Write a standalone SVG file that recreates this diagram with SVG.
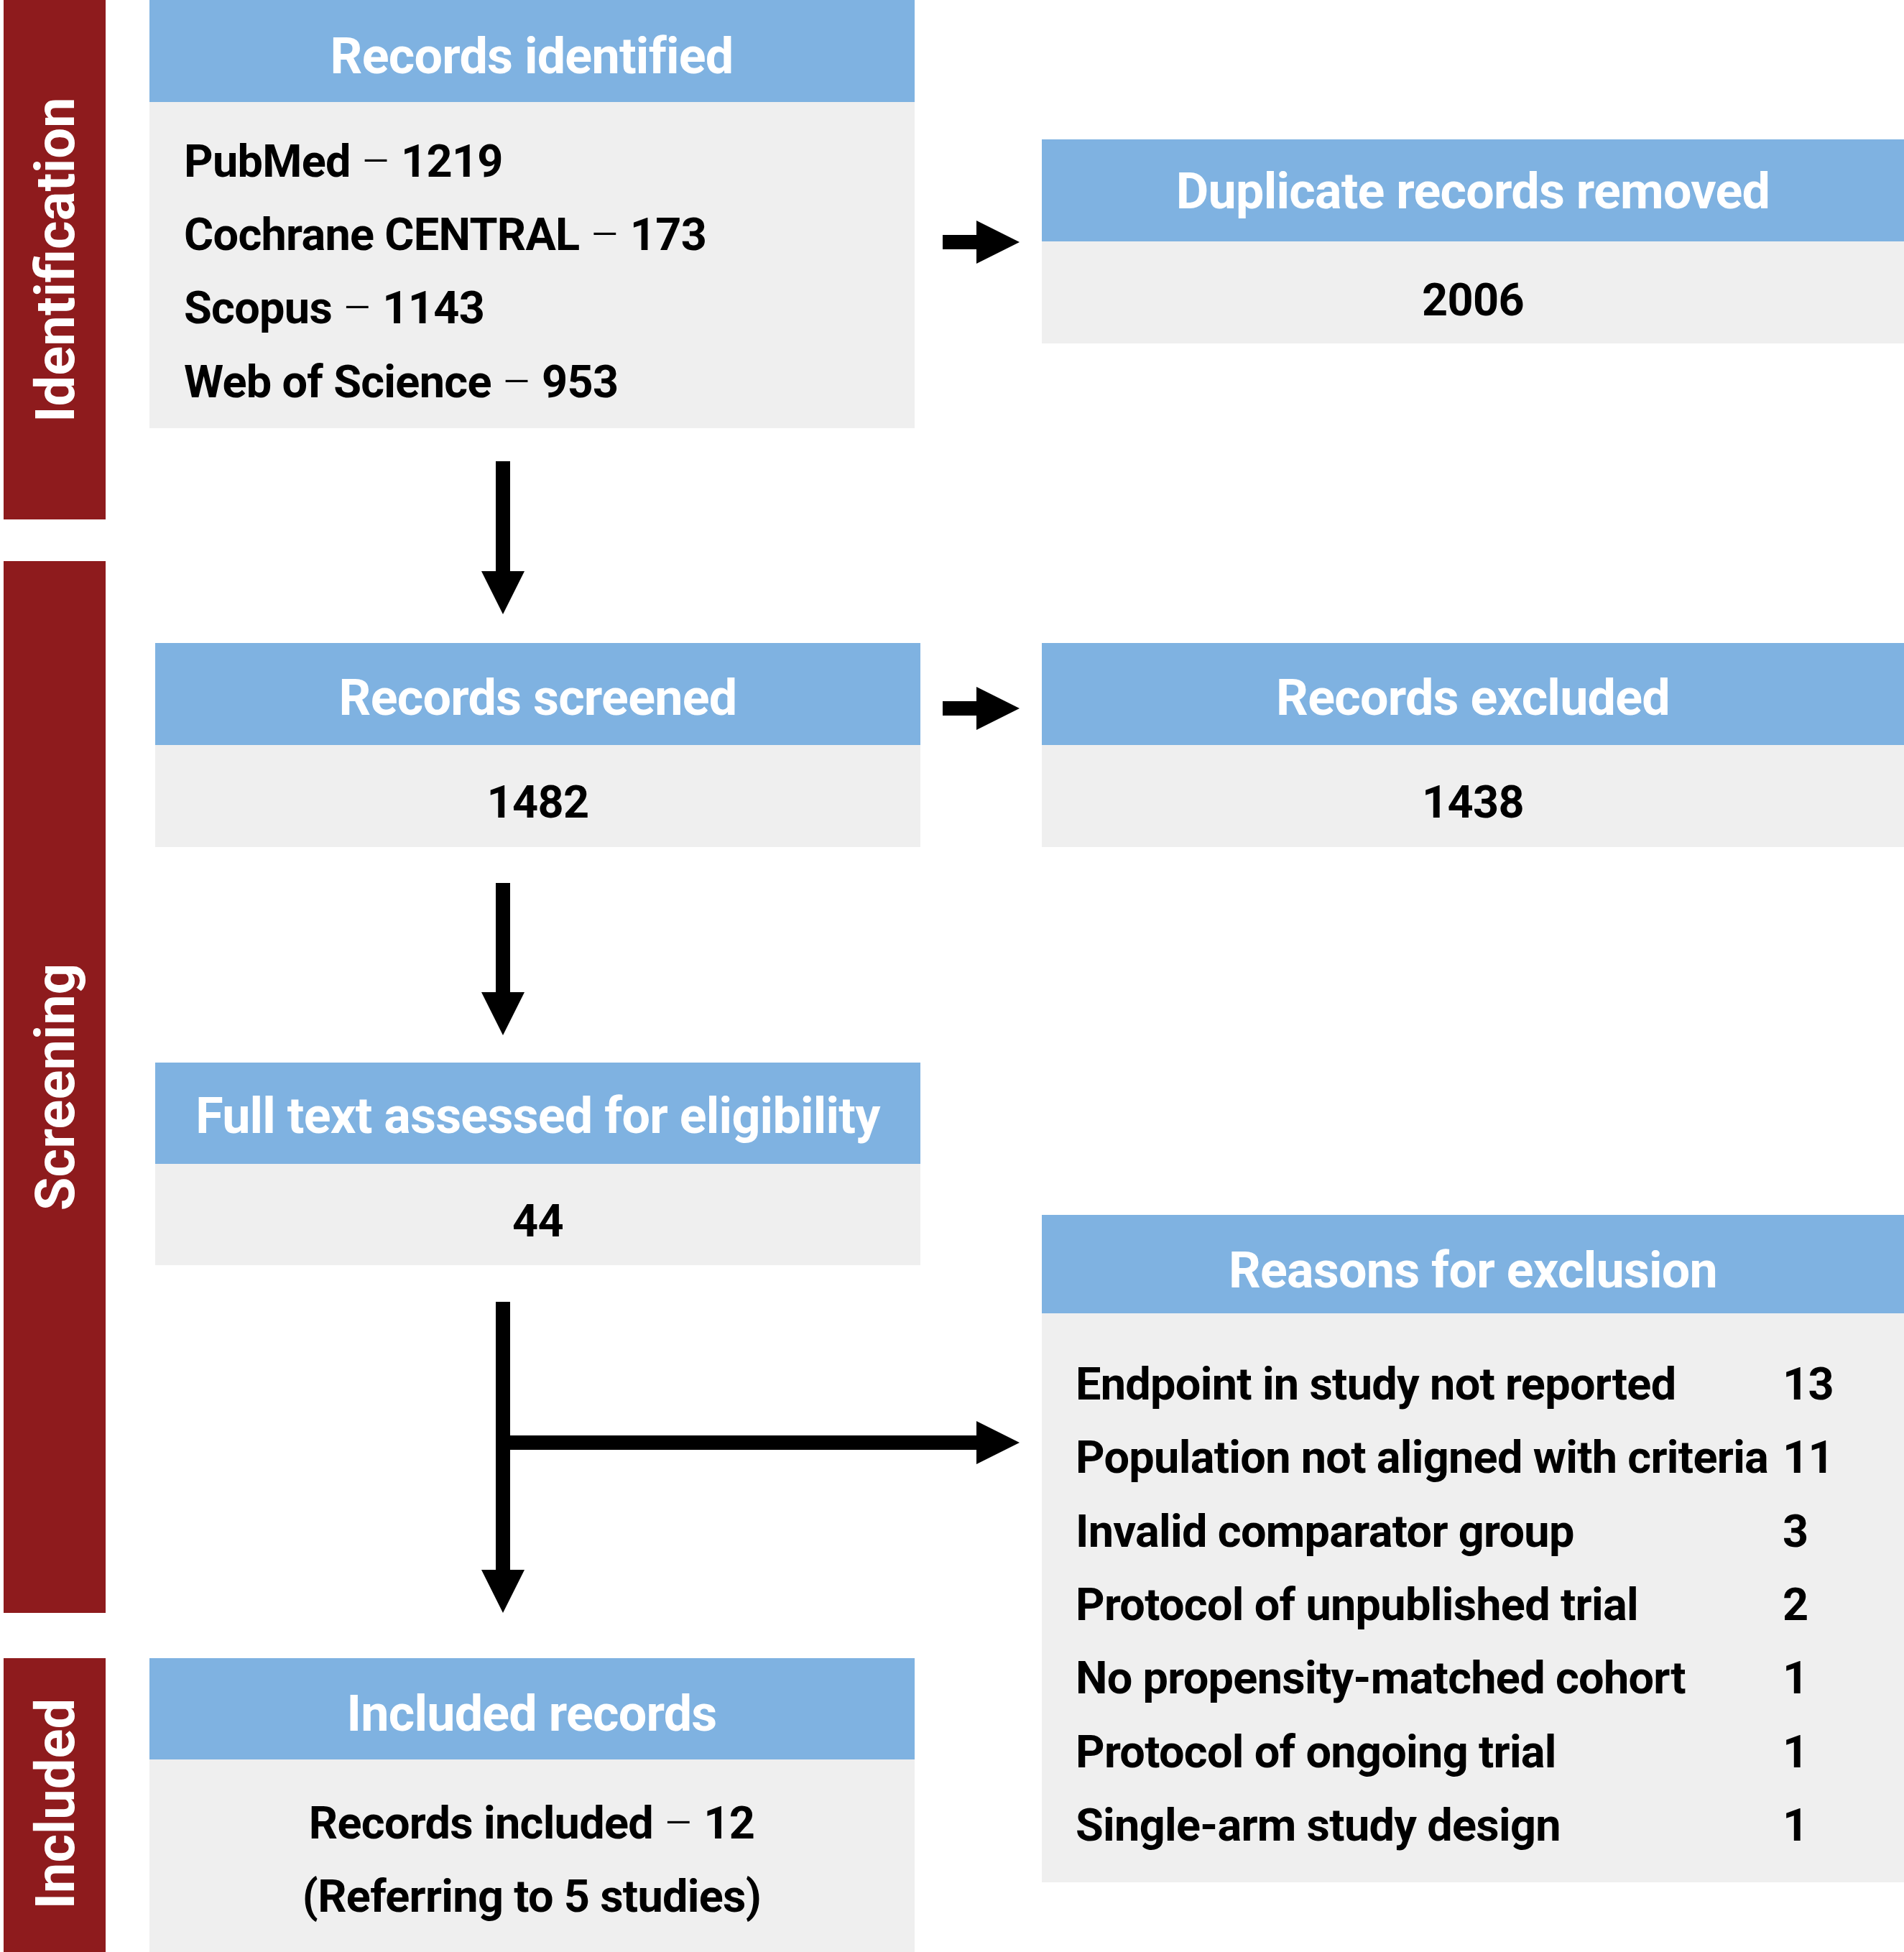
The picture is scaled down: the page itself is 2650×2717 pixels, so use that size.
<svg xmlns="http://www.w3.org/2000/svg" width="2650" height="2717" viewBox="0 0 2650 2717">
<defs>
<style>
.bar{fill:#8E1B1D}
.hd{fill:#7FB2E1}
.bd{fill:#EFEFEF}
.side{font-family:Roboto,"Liberation Sans",sans-serif;font-weight:bold;font-size:76px;fill:#FFFFFF;text-anchor:middle}
.ht{font-family:Roboto,"Liberation Sans",sans-serif;font-weight:bold;font-size:70px;fill:#FFFFFF;text-anchor:middle;letter-spacing:-0.75px}
.bt{font-family:Roboto,"Liberation Sans",sans-serif;font-weight:bold;font-size:63px;fill:#000000;letter-spacing:-0.7px}
.c{text-anchor:middle}
.d{font-weight:300}
.conn{stroke:#000000;stroke-width:20;fill:none}
</style>
<marker id="ah" markerUnits="userSpaceOnUse" markerWidth="60" markerHeight="60" refX="0" refY="30" orient="auto" viewBox="0 0 60 60">
<path d="M0,0 L60,30 L0,60 Z" fill="#000000"/>
</marker>
</defs>
<rect width="2650" height="2717" fill="#FFFFFF"/>

<g id="phase-identification">
<rect class="bar" x="5" y="0" width="142" height="723"/>
<text class="side" transform="translate(103,361.5) rotate(-90)">Identification</text>
</g>
<g id="phase-screening">
<rect class="bar" x="5" y="781" width="142" height="1464"/>
<text class="side" transform="translate(103,1513) rotate(-90)">Screening</text>
</g>
<g id="phase-included">
<rect class="bar" x="5" y="2308" width="142" height="409"/>
<text class="side" transform="translate(103,2510.5) rotate(-90)">Included</text>
</g>

<g id="records-identified">
<rect class="hd" x="208" y="0" width="1065" height="142"/>
<rect class="bd" x="208" y="142" width="1065" height="454"/>
<text class="ht" x="740" y="102">Records identified</text>
<text class="bt" x="256" y="246">PubMed <tspan class="d">–</tspan> 1219</text>
<text class="bt" x="256" y="348">Cochrane CENTRAL <tspan class="d">–</tspan> 173</text>
<text class="bt" x="256" y="450">Scopus <tspan class="d">–</tspan> 1143</text>
<text class="bt" x="256" y="553">Web of Science <tspan class="d">–</tspan> 953</text>
</g>

<g id="duplicates-removed">
<rect class="hd" x="1450" y="194" width="1200" height="142"/>
<rect class="bd" x="1450" y="336" width="1200" height="142"/>
<text class="ht" x="2050" y="290">Duplicate records removed</text>
<text class="bt c" x="2050" y="439">2006</text>
</g>

<g id="records-screened">
<rect class="hd" x="216" y="895" width="1065" height="142"/>
<rect class="bd" x="216" y="1037" width="1065" height="142"/>
<text class="ht" x="748.5" y="995">Records screened</text>
<text class="bt c" x="748.5" y="1138">1482</text>
</g>

<g id="records-excluded">
<rect class="hd" x="1450" y="895" width="1200" height="142"/>
<rect class="bd" x="1450" y="1037" width="1200" height="142"/>
<text class="ht" x="2050" y="995">Records excluded</text>
<text class="bt c" x="2050" y="1138">1438</text>
</g>

<g id="full-text-assessed">
<rect class="hd" x="216" y="1479" width="1065" height="141"/>
<rect class="bd" x="216" y="1620" width="1065" height="141"/>
<text class="ht" x="748.5" y="1577">Full text assessed for eligibility</text>
<text class="bt c" x="748.5" y="1721">44</text>
</g>

<g id="reasons-for-exclusion">
<rect class="hd" x="1450" y="1691" width="1200" height="137"/>
<rect class="bd" x="1450" y="1828" width="1200" height="792"/>
<text class="ht" x="2050" y="1792">Reasons for exclusion</text>
<text class="bt" x="1497" y="1948">Endpoint in study not reported</text>
<text class="bt" x="1497" y="2050">Population not aligned with criteria</text>
<text class="bt" x="1497" y="2153">Invalid comparator group</text>
<text class="bt" x="1497" y="2255">Protocol of unpublished trial</text>
<text class="bt" x="1497" y="2357">No propensity-matched cohort</text>
<text class="bt" x="1497" y="2460">Protocol of ongoing trial</text>
<text class="bt" x="1497" y="2562">Single-arm study design</text>
<text class="bt" x="2481" y="1948">13</text>
<text class="bt" x="2481" y="2050">11</text>
<text class="bt" x="2481" y="2153">3</text>
<text class="bt" x="2481" y="2255">2</text>
<text class="bt" x="2481" y="2357">1</text>
<text class="bt" x="2481" y="2460">1</text>
<text class="bt" x="2481" y="2562">1</text>
</g>

<g id="included-records">
<rect class="hd" x="208" y="2308" width="1065" height="141"/>
<rect class="bd" x="208" y="2449" width="1065" height="268"/>
<text class="ht" x="740" y="2409">Included records</text>
<text class="bt c" x="740" y="2559">Records included <tspan class="d">–</tspan> 12</text>
<text class="bt c" x="740" y="2661">(Referring to 5 studies)</text>
</g>

<g id="connectors">
<line class="conn" x1="700" y1="642" x2="700" y2="795" marker-end="url(#ah)"/>
<line class="conn" x1="700" y1="1229" x2="700" y2="1381" marker-end="url(#ah)"/>
<line class="conn" x1="700" y1="1812" x2="700" y2="2185" marker-end="url(#ah)"/>
<line class="conn" x1="700" y1="2008" x2="1359" y2="2008" marker-end="url(#ah)"/>
<line class="conn" x1="1312" y1="337" x2="1359" y2="337" marker-end="url(#ah)"/>
<line class="conn" x1="1312" y1="986" x2="1359" y2="986" marker-end="url(#ah)"/>
</g>
</svg>
